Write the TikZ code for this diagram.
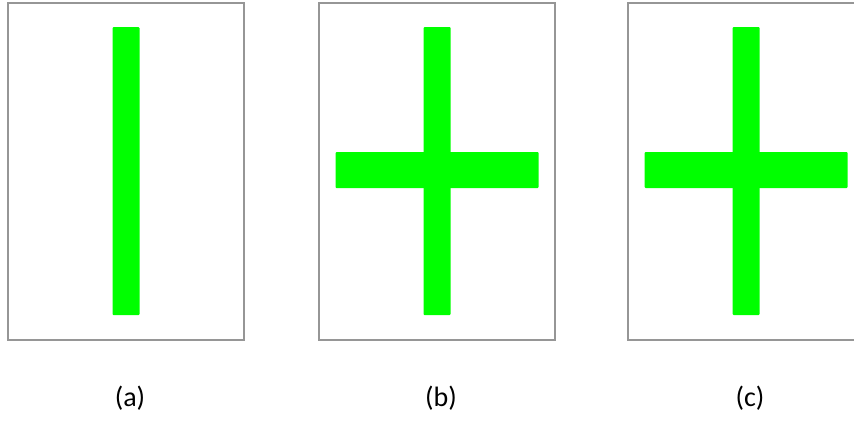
\documentclass[tikz,border=0pt]{standalone}
\usepackage{fontspec}
\setmainfont{Carlito}
\definecolor{barGreen}{RGB}{0,255,0}
\definecolor{frameGray}{RGB}{150,150,150}
\tikzset{
  frame/.style={draw=frameGray, line width=1.5pt},
  bar/.style={fill=barGreen, rounded corners=1pt},
  caption/.style={font=\fontsize{28}{32}\selectfont}
}
\begin{document}
\begin{tikzpicture}[x=1pt, y=-1pt]
  \useasboundingbox (0,0) rectangle (854,421);
  \foreach \x/\name in {8/a,319/b,628/c} {
    \draw[frame] (\x,3) rectangle ++(236,337);
    \fill[bar] (\x+104.5,27) rectangle ++(27,288);
    \node[caption] (lab-\name) at (\x+122,398) {(\name)};
  }
  % cross bars of (b) and (c)
  \foreach \x in {319,628}
    \fill[bar] (\x+16.5,152) rectangle ++(203,36);
\end{tikzpicture}
\end{document}
